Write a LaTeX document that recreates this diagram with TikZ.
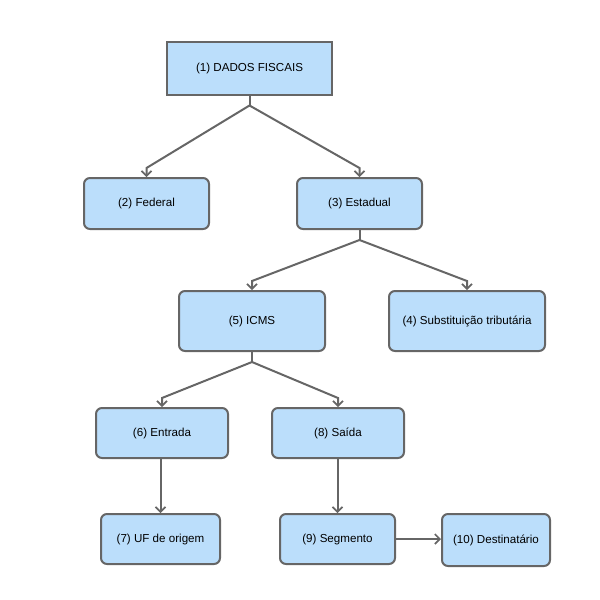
\documentclass[tikz,border=0pt]{standalone}
\usepackage{fontspec}
\setmainfont{Liberation Sans}
\usetikzlibrary{arrows.meta,calc}
\definecolor{boxfill}{RGB}{187,222,251}
\definecolor{boxline}{RGB}{102,102,102}
\tikzset{
  box/.style={draw=boxline, fill=boxfill, line width=2pt, rounded corners=6pt, inner sep=0pt, font=\fontsize{11.6}{13}\selectfont},
  conn/.style={draw=boxline, line width=2pt, line join=miter},
  tip/.style={-{Straight Barb[length=5pt,width=10pt,line width=1.6pt]}},
}
\begin{document}
\begin{tikzpicture}[x=1pt,y=-1pt]
\useasboundingbox (0,0) rectangle (600,600);
\node[box, rounded corners=0pt, minimum width=165, minimum height=53] (n1) at (249.5,68) {(1) DADOS FISCAIS};
\node[box, minimum width=125, minimum height=51] (n2) at (146.5,203.5) {(2) Federal};
\node[box, minimum width=125, minimum height=51] (n3) at (359.5,203.5) {(3) Estadual};
\node[box, minimum width=146, minimum height=60] (n5) at (252,321) {(5) ICMS};
\node[box, minimum width=156, minimum height=60] (n4) at (467,321) {(4) Substituição tributária};
\node[box, minimum width=132, minimum height=50] (n6) at (162,433) {(6) Entrada};
\node[box, minimum width=132, minimum height=50] (n8) at (338,433) {(8) Saída};
\node[box, minimum width=119, minimum height=50] (n7) at (160.5,539) {(7) UF de origem};
\node[box, minimum width=115, minimum height=50] (n9) at (337.5,539) {(9) Segmento};
\node[box, minimum width=108, minimum height=52] (n10) at (496,540) {(10) Destinatário};

\coordinate (b1) at ($(n1.south)+(0,10)$);
\coordinate (b3) at ($(n3.south)+(0,10)$);
\coordinate (b5) at ($(n5.south)+(0,10)$);

\draw[conn] (n1.south) -- (b1);
\draw[conn,tip] (b1) -- ($(n2.north)+(0,-9)$) -- (n2.north);
\draw[conn,tip] (b1) -- ($(n3.north)+(0,-9)$) -- (n3.north);
\draw[conn] (n3.south) -- (b3);
\draw[conn,tip] (b3) -- ($(n5.north)+(0,-9)$) -- (n5.north);
\draw[conn,tip] (b3) -- ($(n4.north)+(0,-9)$) -- (n4.north);
\draw[conn] (n5.south) -- (b5);
\draw[conn,tip] (b5) -- ($(n6.north)+(0,-9)$) -- (n6.north);
\draw[conn,tip] (b5) -- ($(n8.north)+(0,-9)$) -- (n8.north);
\draw[conn,tip] (n6.south) -- (n6.south -| n7.north) -- (n7.north);
\draw[conn,tip] (n8.south) -- (n8.south -| n9.north) -- (n9.north);
\draw[conn,tip] (n9.east) -- (n9.east -| n10.west);
\end{tikzpicture}
\end{document}
